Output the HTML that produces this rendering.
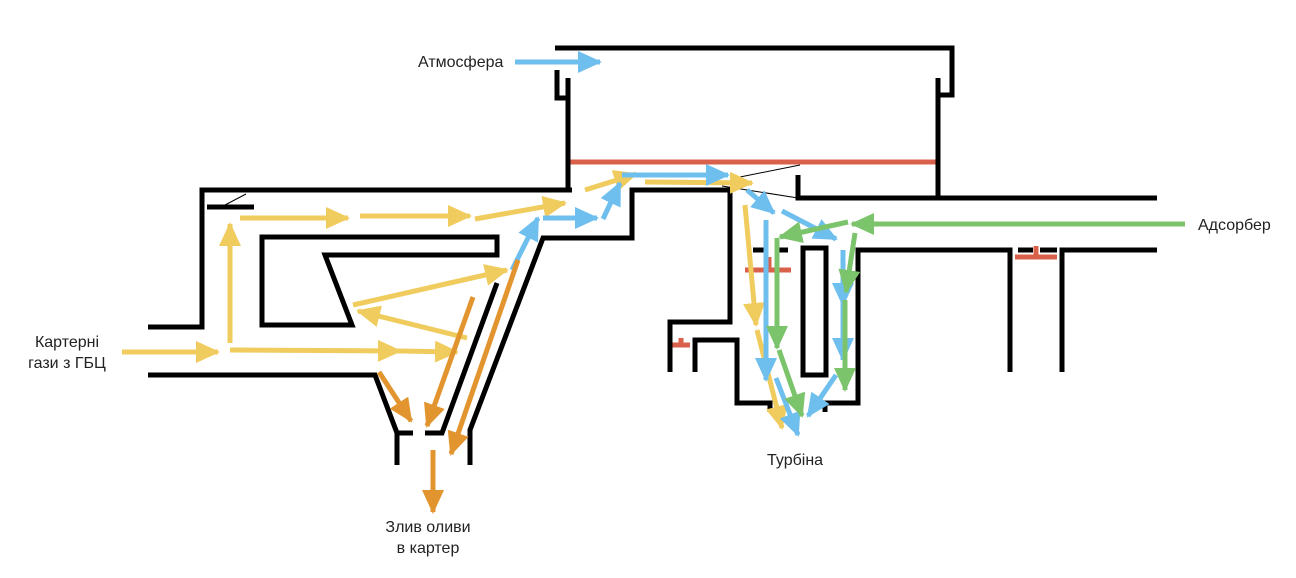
<!DOCTYPE html>
<html><head><meta charset="utf-8"><style>
html,body{margin:0;padding:0;background:#fff;}
svg{display:block;}
text{font-family:"Liberation Sans",sans-serif;font-size:16px;fill:#222;}
</style></head><body>
<svg width="1296" height="578" viewBox="0 0 1296 578" xmlns="http://www.w3.org/2000/svg">
<defs>
<marker id="y" markerUnits="userSpaceOnUse" markerWidth="24" markerHeight="22" refX="22" refY="11" orient="auto"><path d="M0,0 L24,11 L0,22 Z" fill="#F0CC5E"/></marker>
<marker id="b" markerUnits="userSpaceOnUse" markerWidth="24" markerHeight="22" refX="22" refY="11" orient="auto"><path d="M0,0 L24,11 L0,22 Z" fill="#6FBFEE"/></marker>
<marker id="g" markerUnits="userSpaceOnUse" markerWidth="24" markerHeight="22" refX="22" refY="11" orient="auto"><path d="M0,0 L24,11 L0,22 Z" fill="#7CC46C"/></marker>
<marker id="o" markerUnits="userSpaceOnUse" markerWidth="24" markerHeight="22" refX="22" refY="11" orient="auto"><path d="M0,0 L24,11 L0,22 Z" fill="#E2952F"/></marker>
</defs>
<rect width="1296" height="578" fill="#fff"/>
<g stroke="#D9604A" stroke-width="5" fill="none">
<line x1="570" y1="162" x2="936" y2="162"/>
<line x1="745" y1="270" x2="791" y2="270"/>
<line x1="769" y1="257" x2="769" y2="270"/>
<line x1="1015" y1="257" x2="1057" y2="257"/>
<line x1="1036" y1="246" x2="1036" y2="257"/>
<line x1="672" y1="345" x2="690" y2="345"/>
<line x1="681" y1="338" x2="681" y2="345"/>
</g>
<g stroke="#000" stroke-width="5" fill="none" stroke-linejoin="miter">
<path d="M555,48 H952 V95 H938"/>
<path d="M938,78 V198"/>
<path d="M557,70 V98 H568"/>
<path d="M568,78 V192"/>
<path d="M148,327 H202 V190 H572"/>
<path d="M207,207 H254"/>
<path d="M148,375 H375 L397,433 V465"/>
<path d="M397,433 H413"/>
<path d="M425,433 H442 L497,283"/>
<path d="M470,465 V430 L543,238 H632 V190 H730 V322 H670 V372"/>
<path d="M695,372 V340 H737 V403 H770 V412"/>
<path d="M825,412 V403 H858 V250 H1010 V372"/>
<path d="M1062,372 V250 H1157"/>
<path d="M798,175 V198 H1157"/>
<rect x="803" y="248" width="23" height="127"/>
<path d="M497,237 H262 V325 H352 L325,255 H497 Z"/>
<path d="M753,250 H765 M778,250 H788 M1018,250 H1033 M1040,250 H1057"/>
</g>
<g stroke="#000" stroke-width="1" fill="none">
<line x1="735" y1="178" x2="800" y2="165"/>
<line x1="722" y1="186" x2="798" y2="198"/>
<line x1="225" y1="205" x2="246" y2="194"/>
</g>
<g stroke="#F0CC5E" stroke-width="5" fill="none">
<line x1="122" y1="352" x2="218" y2="352" marker-end="url(#y)"/>
<line x1="230" y1="350" x2="400" y2="351" marker-end="url(#y)"/>
<line x1="400" y1="351" x2="457" y2="352" marker-end="url(#y)"/>
<line x1="230" y1="343" x2="230" y2="224" marker-end="url(#y)"/>
<line x1="240" y1="218" x2="348" y2="218" marker-end="url(#y)"/>
<line x1="360" y1="216" x2="470" y2="216" marker-end="url(#y)"/>
<line x1="475" y1="219" x2="565" y2="203" marker-end="url(#y)"/>
<line x1="353" y1="305" x2="507" y2="270" marker-end="url(#y)"/>
<line x1="467" y1="338" x2="358" y2="311" marker-end="url(#y)"/>
<line x1="585" y1="190" x2="636" y2="174" marker-end="url(#y)"/>
<line x1="645" y1="182" x2="752" y2="183" marker-end="url(#y)"/>
<line x1="745" y1="205" x2="756" y2="325" marker-end="url(#y)"/>
<line x1="757" y1="330" x2="782" y2="428" marker-end="url(#y)"/>
</g>
<g stroke="#6FBFEE" stroke-width="5" fill="none">
<line x1="515" y1="62" x2="600" y2="62" marker-end="url(#b)"/>
<line x1="512" y1="270" x2="538" y2="218" marker-end="url(#b)"/>
<line x1="543" y1="218" x2="597" y2="218" marker-end="url(#b)"/>
<line x1="603" y1="219" x2="620" y2="183" marker-end="url(#b)"/>
<line x1="622" y1="175" x2="728" y2="175" marker-end="url(#b)"/>
<line x1="747" y1="190" x2="774" y2="213" marker-end="url(#b)"/>
<line x1="782" y1="211" x2="836" y2="239" marker-end="url(#b)"/>
<line x1="766" y1="220" x2="766" y2="380" marker-end="url(#b)"/>
<line x1="776" y1="378" x2="798" y2="435" marker-end="url(#b)"/>
<line x1="843" y1="250" x2="843" y2="305" marker-end="url(#b)"/>
<line x1="843" y1="305" x2="843" y2="360" marker-end="url(#b)"/>
<line x1="836" y1="375" x2="808" y2="416" marker-end="url(#b)"/>
</g>
<g stroke="#7CC46C" stroke-width="5" fill="none">
<line x1="1185" y1="224" x2="852" y2="224" marker-end="url(#g)"/>
<line x1="848" y1="222" x2="780" y2="237" marker-end="url(#g)"/>
<line x1="777" y1="238" x2="777" y2="348" marker-end="url(#g)"/>
<line x1="779" y1="350" x2="802" y2="416" marker-end="url(#g)"/>
<line x1="855" y1="233" x2="846" y2="292" marker-end="url(#g)"/>
<line x1="845" y1="300" x2="845" y2="390" marker-end="url(#g)"/>
</g>
<g stroke="#E2952F" stroke-width="5" fill="none">
<line x1="473" y1="297" x2="427" y2="426" marker-end="url(#o)"/>
<line x1="379" y1="372" x2="411" y2="421" marker-end="url(#o)"/>
<line x1="518" y1="260" x2="451" y2="454" marker-end="url(#o)"/>
<line x1="433" y1="450" x2="433" y2="512" marker-end="url(#o)"/>
</g>
<text x="418" y="67">Атмосфера</text>
<text x="67" y="347" text-anchor="middle">Картерні</text>
<text x="67" y="368" text-anchor="middle">гази з ГБЦ</text>
<text x="1198" y="230">Адсорбер</text>
<text x="767" y="465">Турбіна</text>
<text x="428" y="532" text-anchor="middle">Злив оливи</text>
<text x="428" y="553" text-anchor="middle">в картер</text>
</svg>
</body></html>
